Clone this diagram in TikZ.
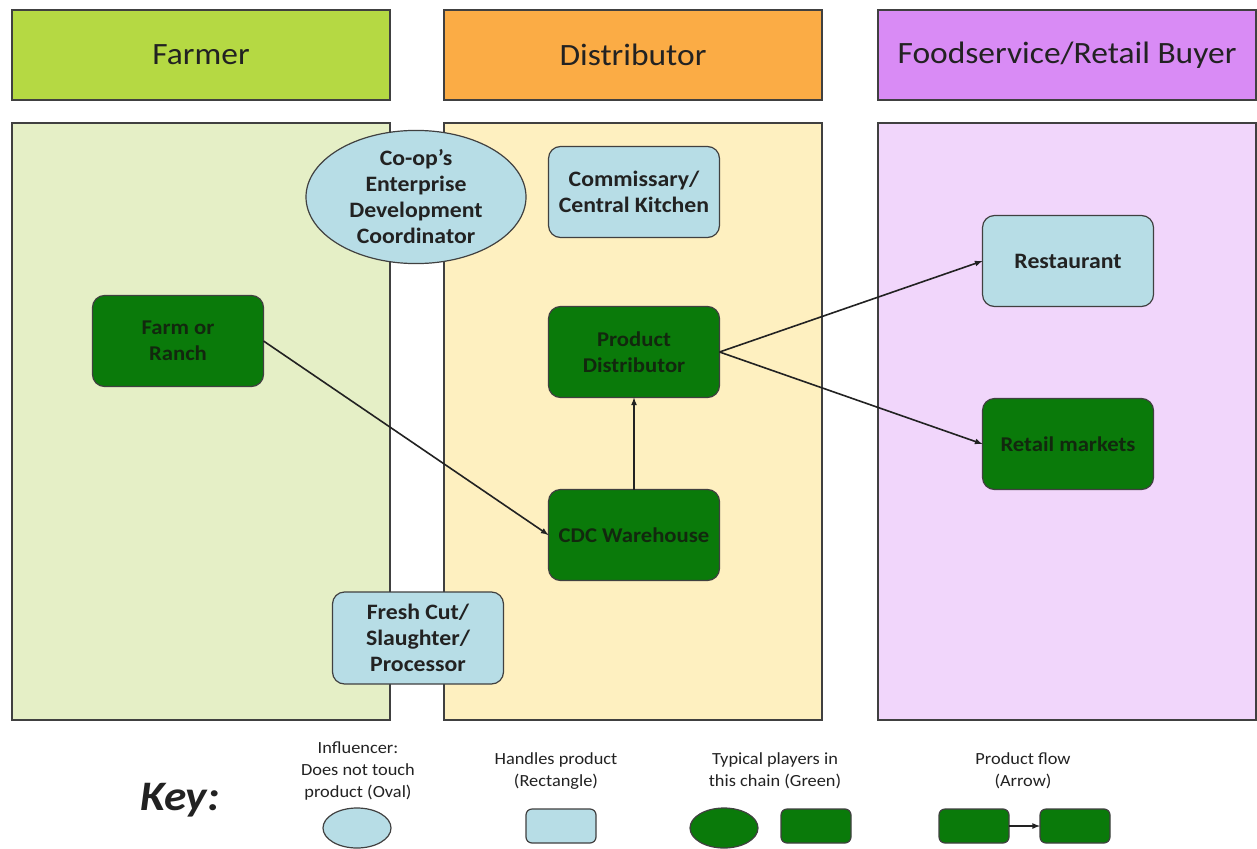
\documentclass[tikz,border=0pt]{standalone}
\usepackage{fontspec}
\setmainfont{Carlito}[FakeStretch=1.08]
\usetikzlibrary{shapes,arrows}
\definecolor{farmhead}{RGB}{181,217,67}
\definecolor{farmbody}{RGB}{229,239,198}
\definecolor{disthead}{RGB}{251,172,69}
\definecolor{distbody}{RGB}{254,240,192}
\definecolor{buyhead}{RGB}{217,139,245}
\definecolor{buybody}{RGB}{241,214,251}
\definecolor{lblue}{RGB}{183,221,230}
\definecolor{dgreen}{RGB}{10,122,10}
\definecolor{edgegray}{RGB}{64,64,64}
\definecolor{ink}{RGB}{34,34,34}
\definecolor{greenink}{RGB}{18,40,14}

\begin{document}
\begin{tikzpicture}[x=1pt,y=-1pt]
\tikzstyle{every node}=[text=ink,align=center,inner sep=0pt,outer sep=0pt]
\tikzstyle{head}=[rectangle,draw=edgegray,line width=1.6pt,minimum width=378pt,minimum height=90pt,font=\fontsize{31}{36}\selectfont]
\tikzstyle{lane}=[rectangle,draw=edgegray,line width=1.3pt,minimum width=378pt,minimum height=597pt]
\tikzstyle{handler}=[rectangle,rounded corners=12pt,draw=edgegray,line width=1.2pt,fill=lblue,minimum width=171pt,minimum height=91pt,font=\bfseries\fontsize{22}{26}\selectfont]
\tikzstyle{influencer}=[ellipse,draw=edgegray,line width=1.2pt,fill=lblue,minimum width=220pt,minimum height=126pt,font=\bfseries\fontsize{22}{26}\selectfont]
\tikzstyle{player}=[handler,fill=dgreen,text=greenink,font=\bfseries\fontsize{21}{26}\selectfont]
\tikzstyle{keytext}=[font=\fontsize{17}{22}\selectfont]
\tikzstyle{keybox}=[rectangle,rounded corners=6pt,draw=edgegray,line width=1.2pt,minimum width=70pt,minimum height=34pt]
\tikzstyle{keyoval}=[ellipse,draw=edgegray,line width=1.2pt,minimum width=68pt,minimum height=40pt]
\tikzstyle{flow}=[-latex,line width=1.6pt,draw=ink]
\useasboundingbox[fill=white] (0,0) rectangle (1257,848);
% columns
\node[head,fill=farmhead] (farmerhead) at (201,55) {Farmer};
\node[head,fill=disthead] (disthead) at (633,55) {Distributor};
\node[head,fill=buyhead] (buyerhead) at (1067,55) {Foodservice/Retail Buyer};
\node[lane,fill=farmbody] (farmerlane) at (201,421.5) {};
\node[lane,fill=distbody] (distlane) at (633,421.5) {};
\node[lane,fill=buybody] (buyerlane) at (1067,421.5) {};
% players
\node[influencer] (coop) at (416,197) {Co-op’s\\Enterprise\\Development\\Coordinator};
\node[handler] (kitchen) at (634,192) {Commissary/\\Central Kitchen};
\node[player] (farm) at (178,341) {Farm or\\Ranch};
\node[player] (proddist) at (634,352) {Product\\Distributor};
\node[player] (cdc) at (634,535) {CDC Warehouse};
\node[handler,minimum height=92pt] (freshcut) at (418,638) {Fresh Cut/\\Slaughter/\\Processor};
\node[handler] (restaurant) at (1068,261) {Restaurant};
\node[player] (retail) at (1068,444) {Retail markets};
% product flow
\draw[flow] (farm.east) -- (cdc.west);
\draw[flow] (cdc) -- (proddist);
\draw[flow] (proddist.east) -- (restaurant.west);
\draw[flow] (proddist.east) -- (retail.west);
% key
\node (key) at (180,800) {\bfseries\itshape\fontsize{42}{48}\selectfont Key:};
\node[keytext] (keyinf) at (358,771) {Influencer:\\Does not touch\\product (Oval)};
\node[keytext] (keyhand) at (556,771) {Handles product\\(Rectangle)};
\node[keytext] (keyplay) at (775,771) {Typical players in\\this chain (Green)};
\node[keytext] (keyflow) at (1023,771) {Product flow\\(Arrow)};
\node[keyoval,fill=lblue] (koval) at (357,828) {};
\node[keybox,fill=lblue] (krect) at (561,826) {};
\node[keyoval,fill=dgreen] (kgoval) at (724,828) {};
\node[keybox,fill=dgreen] (kgrect) at (816,826) {};
\node[keybox,fill=dgreen] (kfrom) at (974,826) {};
\node[keybox,fill=dgreen] (kto) at (1075,826) {};
\draw[flow] (kfrom) -- (kto);
\end{tikzpicture}
\end{document}
